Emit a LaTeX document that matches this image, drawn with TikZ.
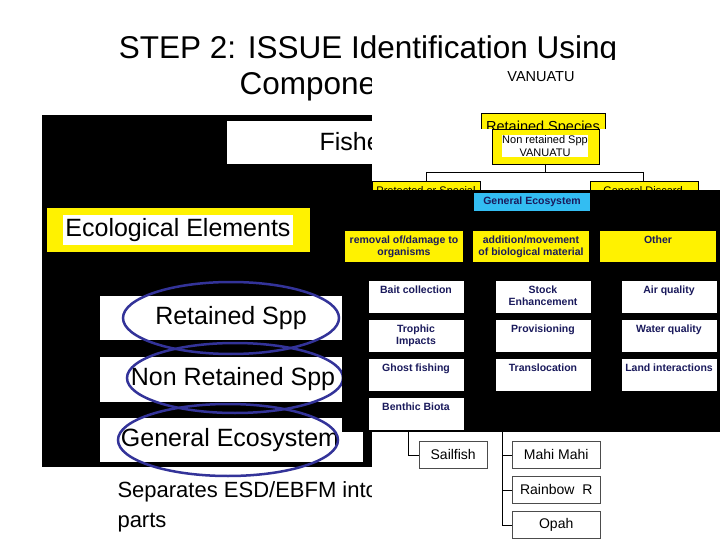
\documentclass[tikz,border=0pt]{standalone}
\usepackage{fontspec}
\setmainfont{Liberation Sans}
\usetikzlibrary{positioning}
\definecolor{navy}{HTML}{333399}
\definecolor{txtblue}{HTML}{1A1A5C}
\begin{document}
\begin{tikzpicture}
    [x=1pt,y=-1pt,
      big/.style={font=\fontsize{25}{27}\selectfont},
      ring/.style={draw=navy,line width=2.5pt},
      cell/.style={text=txtblue,font=\fontsize{10.5}{12.5}\bfseries\selectfont,align=center,anchor=north},
      tag/.style={text=txtblue,font=\fontsize{10.5}{12.5}\bfseries\selectfont,align=center,anchor=north},
      leaf/.style={draw=black!70,fill=white,font=\fontsize{14}{16}\selectfont,
        minimum width=68pt,minimum height=27pt,inner sep=1pt,anchor=north west}
    ]
    \useasboundingbox (0,0) rectangle (720,540);
    \fill [white] (0,0) rectangle (720,540);

    % title
    \node [font=\fontsize{31.5}{33}\selectfont] (title) at (368,50) {STEP 2: ISSUE Identification Using};
    \node [font=\fontsize{31.5}{33}\selectfont,anchor=west] (sub) at (236,87) {Components};

    % left panel
    \fill (42,115) rectangle (372,467);
    \fill [white] (227,121) rectangle (372,164);
    \node [big,anchor=west] (fish) at (316,142) {Fisheries};
    \fill [yellow] (47,208) rectangle (310,252);
    \fill [white] (63,215) rectangle (293,245);
    \node [big] (eco) at (178,230) {Ecological Elements};
    \fill [white] (100,296) rectangle (344,340);
    \node [big] (ret) at (231,318) {Retained Spp};
    \fill [white] (100,357) rectangle (344,402);
    \node [big] (non) at (233,379) {Non Retained Spp};
    \fill [white] (100,418) rectangle (363,462);
    \node [big] (gen) at (230,440) {General Ecosystem};
    \draw [ring] (ret) ellipse [x radius=108,y radius=36];
    \draw [ring] (235,378) ellipse [x radius=108,y radius=35];
    \draw [ring] (228,440) ellipse [x radius=110,y radius=36];
    \begin{scope}
      \clip (0,470) rectangle (371,540);
      \node [font=\fontsize{22}{30}\selectfont,align=left,anchor=north west] (sep) at (114,478) {Separates ESD/EBFM into\\parts};
    \end{scope}

    % Vanuatu chart
    \fill [white] (372,60) rectangle (720,190);
    \node (van) at (541,77) {\fontsize{14.5}{16}\selectfont VANUATU};
    \begin{scope}
      \clip (372,60) rectangle (720,129);
      \draw [fill=yellow] (481,113) rectangle (605,140);
      \node [font=\fontsize{14.5}{16}\selectfont] (rs) at (543,128) {Retained Species};
    \end{scope}
    \draw [fill=yellow] (492,129) rectangle (599,164);
    \node [fill=white,inner sep=0.5pt,align=center,font=\fontsize{11}{13}\selectfont] (nrs) at (545,146) {Non retained Spp\\VANUATU};
    \draw (545,164) -- (545,172) (426,172) -- (643,172) (426,172) -- (426,182) (643,172) -- (643,182);
    \draw [fill=yellow] (372,181) rectangle (480,195);
    \draw [fill=yellow] (590,181) rectangle (698,195);
    \node [font=\fontsize{11}{12}\selectfont,anchor=north] (pro) at (426,183) {Protected or Special};
    \node [font=\fontsize{11}{12}\selectfont,anchor=north] (dis) at (643,183) {General Discard};

    % general ecosystem chart
    \fill (342,190) rectangle (720,432);
    \node [fill=cyan!80!white,text=txtblue,font=\fontsize{10.5}{12}\bfseries\selectfont,
      minimum width=116pt,minimum height=18pt] (ge) at (532,202) {General Ecosystem};
    \fill [yellow] (345,231) rectangle (463,262);
    \fill [yellow] (473,231) rectangle (589,262);
    \fill [yellow] (600,231) rectangle (716,262);
    \node [tag] (rem) at (404,232) {removal of/damage to\\organisms};
    \node [tag] (add) at (531,232) {addition/movement\\of biological material};
    \node [tag] (oth) at (658,232) {Other};
    \foreach \y/\a/\b/\c in {281/Bait collection/Stock\\Enhancement/Air quality,
        320/Trophic\\Impacts/Provisioning/Water quality,
        359/Ghost fishing/Translocation/Land interactions} {
      \fill [white] (369,\y) rectangle +(95,32);
      \fill [white] (496,\y) rectangle +(95,32);
      \fill [white] (622,\y) rectangle +(95,32);
      \node [cell] at (416,\y+1) {\a};
      \node [cell] at (543,\y+1) {\b};
      \node [cell] at (669,\y+1) {\c};
    }
    \fill [white] (369,398) rectangle +(95,32);
    \node [cell] (ben) at (416,399) {Benthic Biota};

    % species tree
    \node [leaf] (sail) at (419,441) {Sailfish};
    \node [leaf,minimum width=88pt] (mahi) at (512,441) {Mahi Mahi};
    \node [leaf,minimum width=88pt] (rain) at (512,476) {Rainbow\ \ R};
    \node [leaf,minimum width=88pt] (opah) at (512,511) {Opah};
    \coordinate (t1) at (408,432);
    \coordinate (t2) at (502,432);
    \draw (t1) |- (sail.west);
    \draw (t2) |- (mahi.west);
    \draw (t2) |- (rain.west);
    \draw (t2) |- (opah.west);
\end{tikzpicture}
\end{document}
